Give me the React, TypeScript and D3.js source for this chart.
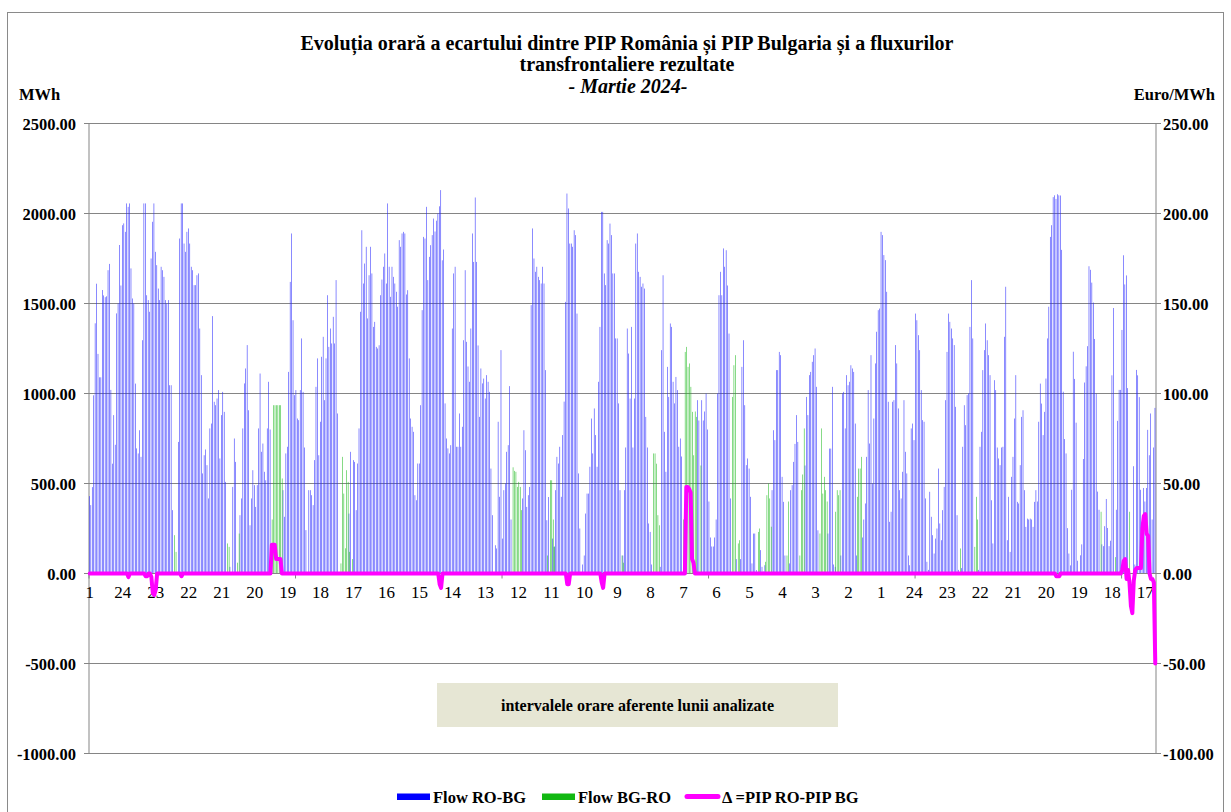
import React from 'react';
import * as d3 from 'd3';

// Flow RO-BG (MWh), one row per day, 24 hours each (March 2024)
const flowRoBgDays: number[][] = [
  [430, 380, 480, 990, 1390, 1610, 1220, 1090, 1090, 1575, 1545, 1535, 1540, 1685, 1720, 1020, 610, 880, 715, 1445, 1500, 1825, 1600, 1935],
  [1945, 1898, 2056, 2037, 2056, 1695, 1528, 1500, 1055, 695, 667, 796, 648, 1296, 2056, 2056, 1546, 1519, 1454, 1750, 1954, 2056, 1787, 1713],
  [1583, 1519, 1704, 1685, 1648, 1519, 1500, 1519, 1046, 1046, 352, 0, 0, 0, 731, 1861, 2056, 2056, 1833, 1787, 1898, 1917, 1833, 1704],
  [1685, 1602, 1602, 1657, 1667, 1361, 1102, 556, 657, 689, 602, 417, 806, 833, 1430, 954, 935, 972, 1019, 639, 880, 1009, 898, 509],
  [0, 0, 37, 0, 481, 750, 620, 0, 0, 324, 417, 806, 1056, 1139, 1269, 907, 268, 417, 574, 491, 370, 491, 806, 1111],
  [676, 722, 565, 518, 806, 1065, 800, 0, 0, 0, 0, 0, 0, 0, 0, 463, 315, 667, 704, 1120, 1620, 1889, 1407, 991],
  [1019, 861, 852, 1019, 1306, 1009, 700, 241, 0, 463, 463, 435, 380, 630, 1037, 1195, 657, 843, 1204, 1315, 963, 1195, 1546, 1259],
  [1361, 1278, 1426, 1278, 1630, 889, 0, 0, 0, 0, 0, 0, 0, 333, 676, 0, 630, 620, 352, 611, 806, 1454, 1907, 1611],
  [1722, 1815, 1417, 1657, 1815, 1667, 1370, 1398, 1259, 1250, 1268, 1546, 1633, 1704, 1778, 1611, 2056, 1704, 1537, 1704, 1648, 1611, 1565, 1482],
  [1852, 1815, 1889, 1898, 1889, 1550, 1574, 1195, 861, 815, 787, 435, 407, 611, 611, 935, 1463, 1870, 1861, 2037, 1630, 1759, 1824, 1880],
  [1972, 1900, 1960, 2000, 2040, 2130, 1740, 1800, 945, 750, 695, 667, 713, 1361, 1667, 1704, 704, 704, 889, 704, 815, 1296, 1685, 1287],
  [1150, 1065, 1361, 1889, 1731, 2089, 1731, 1267, 870, 1139, 1056, 1083, 972, 1102, 1065, 1009, 583, 324, 0, 157, 139, 843, 426, 1241],
  [194, 463, 500, 676, 713, 1041, 300, 0, 0, 0, 0, 0, 0, 0, 417, 796, 685, 370, 435, 481, 1491, 1917, 1750, 1676],
  [1704, 1648, 1630, 1611, 1704, 1611, 1130, 296, 425, 0, 0, 194, 148, 463, 648, 611, 704, 426, 769, 955, 1509, 2111, 2028, 1833],
  [1833, 1815, 1907, 1880, 1444, 556, 250, 0, 50, 100, 333, 444, 444, 593, 861, 667, 917, 769, 593, 1065, 1370, 2009, 2009, 1667],
  [1602, 1852, 1833, 1944, 1880, 1667, 1667, 1306, 1306, 945, 463, 0, 100, 463, 700, 1361, 1222, 972, 1370, 700, 972, 1833, 1889, 1676],
  [1648, 1593, 1611, 1583, 870, 700, 278, 231, 50, 0, 0, 0, 0, 0, 37, 1241, 1657, 787, 565, 1148, 981, 1389, 1370, 1065],
  [945, 1092, 1019, 704, 750, 650, 0, 0, 0, 0, 0, 0, 0, 0, 0, 0, 963, 850, 0, 963, 850, 900, 1000, 800],
  [400, 200, 150, 150, 200, 300, 1000, 1546, 1676, 1546, 1806, 1704, 1796, 1600, 1333, 417, 0, 0, 0, 80, 0, 0, 80, 1148],
  [1296, 935, 602, 639, 583, 426, 56, 222, 222, 19, 0, 0, 130, 37, 10, 46, 0, 0, 0, 0, 463, 796, 741, 1130],
  [1130, 1231, 1213, 537, 398, 100, 0, 0, 56, 463, 491, 620, 720, 880, 731, 0, 0, 0, 0, 600, 981, 880, 1102, 1120],
  [1176, 1213, 1250, 1037, 240, 0, 0, 0, 0, 0, 0, 222, 694, 694, 1037, 50, 37, 0, 0, 0, 100, 1000, 1009, 806],
  [1102, 1046, 1065, 1157, 1139, 1120, 833, 100, 0, 0, 0, 200, 300, 389, 648, 1019, 722, 1213, 500, 861, 1167, 1343, 1463, 1472],
  [1898, 1880, 1769, 1741, 1565, 954, 287, 343, 954, 963, 1269, 1167, 917, 463, 417, 565, 963, 676, 556, 100, 46, 806, 833, 741],
  [1444, 1407, 1324, 1241, 1019, 852, 843, 417, 65, 20, 454, 315, 213, 111, 194, 250, 583, 278, 185, 352, 481, 963, 1231, 1444],
  [1398, 1361, 1306, 1269, 926, 324, 20, 0, 30, 704, 935, 824, 991, 1000, 1370, 1630, 1306, 0, 0, 0, 20, 704, 787, 1130],
  [1241, 1389, 1296, 1213, 1102, 407, 167, 1074, 1019, 700, 639, 602, 700, 704, 1315, 1593, 185, 426, 120, 537, 648, 861, 1102, 398],
  [389, 602, 870, 907, 463, 259, 305, 300, 305, 300, 259, 398, 463, 400, 843, 1055, 944, 769, 898, 1083, 1306, 1482, 1870, 1935],
  [2091, 2101, 2081, 2107, 2101, 2100, 1798, 1010, 747, 667, 252, 111, 45, 465, 1232, 1081, 838, 71, 0, 101, 162, 636, 1061, 1151],
  [1263, 1707, 1687, 1616, 1505, 1303, 1000, 455, 354, 0, 162, 152, 263, 414, 253, 152, 182, 1101, 1475, 0, 354, 848, 1020, 1020],
  [1353, 1768, 1606, 1656, 1030, 0, 0, 0, 596, 50, 1131, 1101, 980, 465, 60, 475, 400, 475, 798, 657, 889, 300, 700, 920],
];

// Flow BG-RO (MWh): [day (0-based), hour (1-24), value]; all other hours are 0
const flowBgRoEntries: [number, number, number][] = [
  [2, 12, 213], [2, 13, 120],
  [4, 1, 167], [4, 2, 148], [4, 8, 60], [4, 9, 222],
  [5, 8, 300], [5, 9, 935], [5, 10, 935], [5, 11, 935], [5, 12, 935], [5, 13, 935], [5, 14, 935], [5, 15, 528],
  [7, 8, 56], [7, 9, 648], [7, 10, 444], [7, 11, 140], [7, 12, 574], [7, 13, 509], [7, 14, 120], [7, 16, 80],
  [12, 8, 590], [12, 9, 570], [12, 10, 565], [12, 11, 481], [12, 12, 509], [12, 13, 481], [12, 14, 352],
  [13, 8, 100], [13, 10, 518], [13, 11, 518], [13, 12, 300], [13, 13, 150],
  [15, 12, 100], [15, 13, 60],
  [16, 10, 667], [16, 11, 667], [16, 12, 610], [16, 13, 324], [16, 14, 268],
  [17, 7, 300], [17, 8, 1231], [17, 9, 1259], [17, 10, 1148], [17, 11, 1167], [17, 12, 1037], [17, 13, 898], [17, 14, 657], [17, 15, 900], [17, 16, 870], [17, 19, 600],
  [18, 17, 981], [18, 18, 1157], [18, 19, 1213], [18, 21, 167], [18, 22, 185],
  [19, 11, 231], [19, 12, 250], [19, 16, 65], [19, 17, 435], [19, 18, 500], [19, 19, 417], [19, 20, 260],
  [20, 7, 100], [20, 8, 400], [20, 16, 100], [20, 17, 463], [20, 18, 550], [20, 19, 806],
  [21, 6, 222], [21, 7, 806], [21, 8, 444], [21, 9, 537], [21, 10, 463], [21, 11, 400], [21, 17, 343], [21, 18, 463], [21, 19, 435], [21, 20, 463],
  [22, 8, 426], [22, 9, 583], [22, 10, 583], [22, 11, 648],
  [25, 8, 139], [25, 18, 148], [25, 19, 426], [25, 20, 300],
  [29, 10, 343], [29, 20, 91],
  [30, 6, 343],
];

// Δ = PIP RO - PIP BG (Euro/MWh): [hour index 0..743, value]; all other hours are 0
const deltaEntries: [number, number][] = [
  [27, -2], [39, -1.5], [40, -1.5], [43, -2], [44, -11], [45, -12], [46, -9], [64, -1.5],
  [127, 16], [128, 16], [129, 16], [130, 8], [131, 8], [132, 8], [133, 8],
  [244, -6], [245, -8],
  [333, -6], [334, -6],
  [357, -5], [358, -8],
  [416, 48], [417, 48], [418, 47], [419, 45], [420, 8], [421, 6],
  [674, -1.5], [675, -1.5], [676, -1.5],
  [720, 2], [721, 7], [722, 8], [723, -3], [724, 2], [725, -5], [726, -18], [727, -22], [728, -4],
  [729, 2], [730, 3], [731, 3], [732, 3], [733, 3], [734, 25], [735, 32], [736, 33], [737, 22],
  [738, 21], [739, 0], [740, -3], [741, -3], [742, -5], [743, -50],
];

const xTickLabels = ['1', '24', '23', '22', '21', '20', '19', '18', '17', '16', '15', '14', '13', '12', '11', '10', '9', '8', '7', '6', '5', '4', '3', '2', '1', '24', '23', '22', '21', '20', '19', '18', '17'];
const leftTicks = [-1000, -500, 0, 500, 1000, 1500, 2000, 2500];
const rightTicks = [-100, -50, 0, 50, 100, 150, 200, 250];
const legendItems = ['Flow RO-BG', 'Flow BG-RO', 'Δ =PIP RO-PIP BG'];

const FONT = '"Liberation Serif", "Times New Roman", serif';

export default function App() {
  const W = 1231, H = 812;
  const left = 89, right = 1156, top = 123.5, bottom = 753.5;

  const roBg = flowRoBgDays.flat();
  const n = roBg.length;
  const bgRo = new Array(n).fill(0);
  flowBgRoEntries.forEach(([d, h, v]) => { bgRo[d * 24 + h - 1] = v; });
  const delta = new Array(n).fill(0);
  deltaEntries.forEach(([i, v]) => { delta[i] = v; });

  const idx = d3.range(n);
  const x = d3.scaleBand<number>().domain(idx).range([left, right]).padding(0);
  const bw = x.bandwidth();
  const yL = d3.scaleLinear().domain([-1000, 2500]).range([bottom, top]);
  const yR = d3.scaleLinear().domain([-100, 250]).range([bottom, top]);
  const y0 = yL(0);

  const line = d3.line<number>()
    .x((_, i) => (x(i) as number) + bw / 2)
    .y((v) => yR(v));

  const gridColor = '#858585';

  return (
    <svg width={W} height={H} style={{ position: 'absolute', left: 0, top: 0, background: '#fff' }} fontFamily={FONT}>
      <rect x={0} y={0} width={W} height={H} fill="#fff" />
      <rect x={7.5} y={12.5} width={1216} height={830} fill="#fff" stroke="#8a8a8a" strokeWidth={1} />

      {/* title */}
      <g fontWeight="bold" fontSize={20} textAnchor="middle" fill="#000">
        <text x={627} y={50}>Evoluția orară a ecartului dintre PIP România și PIP Bulgaria și a fluxurilor</text>
        <text x={627} y={71}>transfrontaliere rezultate</text>
        <text x={628} y={93} fontStyle="italic">- Martie 2024-</text>
      </g>
      <text x={19} y={100} fontWeight="bold" fontSize={16.5}>MWh</text>
      <text x={1215} y={100} fontWeight="bold" fontSize={16.5} textAnchor="end">Euro/MWh</text>

      {/* gridlines */}
      {leftTicks.map((t) => (
        <line key={'g' + t} x1={left} x2={right} y1={yL(t)} y2={yL(t)} stroke={gridColor} strokeWidth={1} />
      ))}
      {/* axes */}
      <line x1={left} x2={left} y1={top} y2={bottom} stroke={gridColor} />
      <line x1={right} x2={right} y1={top} y2={bottom} stroke={gridColor} />
      {leftTicks.map((t) => (
        <g key={'l' + t}>
          <line x1={left - 5} x2={left} y1={yL(t)} y2={yL(t)} stroke={gridColor} />
          <text x={76} y={yL(t) + 6} textAnchor="end" fontWeight="bold" fontSize={16.5}>{t.toFixed(2)}</text>
        </g>
      ))}
      {rightTicks.map((t) => (
        <g key={'r' + t}>
          <line x1={right} x2={right + 5} y1={yR(t)} y2={yR(t)} stroke={gridColor} />
          <text x={1163} y={yR(t) + 6} textAnchor="start" fontWeight="bold" fontSize={16.5}>{t.toFixed(2)}</text>
        </g>
      ))}

      {/* bars */}
      <g>
        {roBg.map((v, i) => v > 0 ? (
          <rect key={'b' + i} x={(x(i) as number) + bw * 0.08} width={bw * 0.38}
            y={yL(v)} height={y0 - yL(v)} fill="#2a2aff" />
        ) : null)}
        {bgRo.map((v, i) => v > 0 ? (
          <rect key={'gr' + i} x={(x(i) as number) + bw * 0.5} width={bw * 0.38}
            y={yL(v)} height={y0 - yL(v)} fill="#22bb22" />
        ) : null)}
      </g>

      {/* x axis */}
      <line x1={left} x2={right} y1={y0} y2={y0} stroke={gridColor} />
      {d3.range(0, n + 1, 144).map((i) => {
        const xx = i < n ? (x(i) as number) : right;
        return <line key={'t' + i} x1={xx} x2={xx} y1={y0} y2={y0 + 5} stroke={gridColor} />;
      })}
      <g fontSize={17} textAnchor="middle">
        {xTickLabels.map((lab, k) => (
          <text key={'x' + k} x={(x(k * 23) as number) + bw / 2} y={598}>{lab}</text>
        ))}
      </g>

      {/* delta line */}
      <path d={line(delta) || ''} fill="none" stroke="#ff00ff" strokeWidth={4} strokeLinejoin="round" strokeLinecap="round" />

      {/* annotation box */}
      <rect x={437} y={683} width={401} height={44} fill="#e6e6d4" />
      <text x={637.5} y={711} textAnchor="middle" fontWeight="bold" fontSize={16}>intervalele orare aferente lunii analizate</text>

      {/* legend */}
      <g fontWeight="bold" fontSize={16.5}>
        <rect x={397} y={793.5} width={33} height={6.5} fill="#0000ff" />
        <text x={433} y={803}>{legendItems[0]}</text>
        <rect x={542} y={793.5} width={33} height={6.5} fill="#12b812" />
        <text x={578} y={803}>{legendItems[1]}</text>
        <line x1={687} x2={718} y1={796.5} y2={796.5} stroke="#ff00ff" strokeWidth={5} strokeLinecap="round" />
        <text x={722} y={803}>{legendItems[2]}</text>
      </g>
    </svg>
  );
}
